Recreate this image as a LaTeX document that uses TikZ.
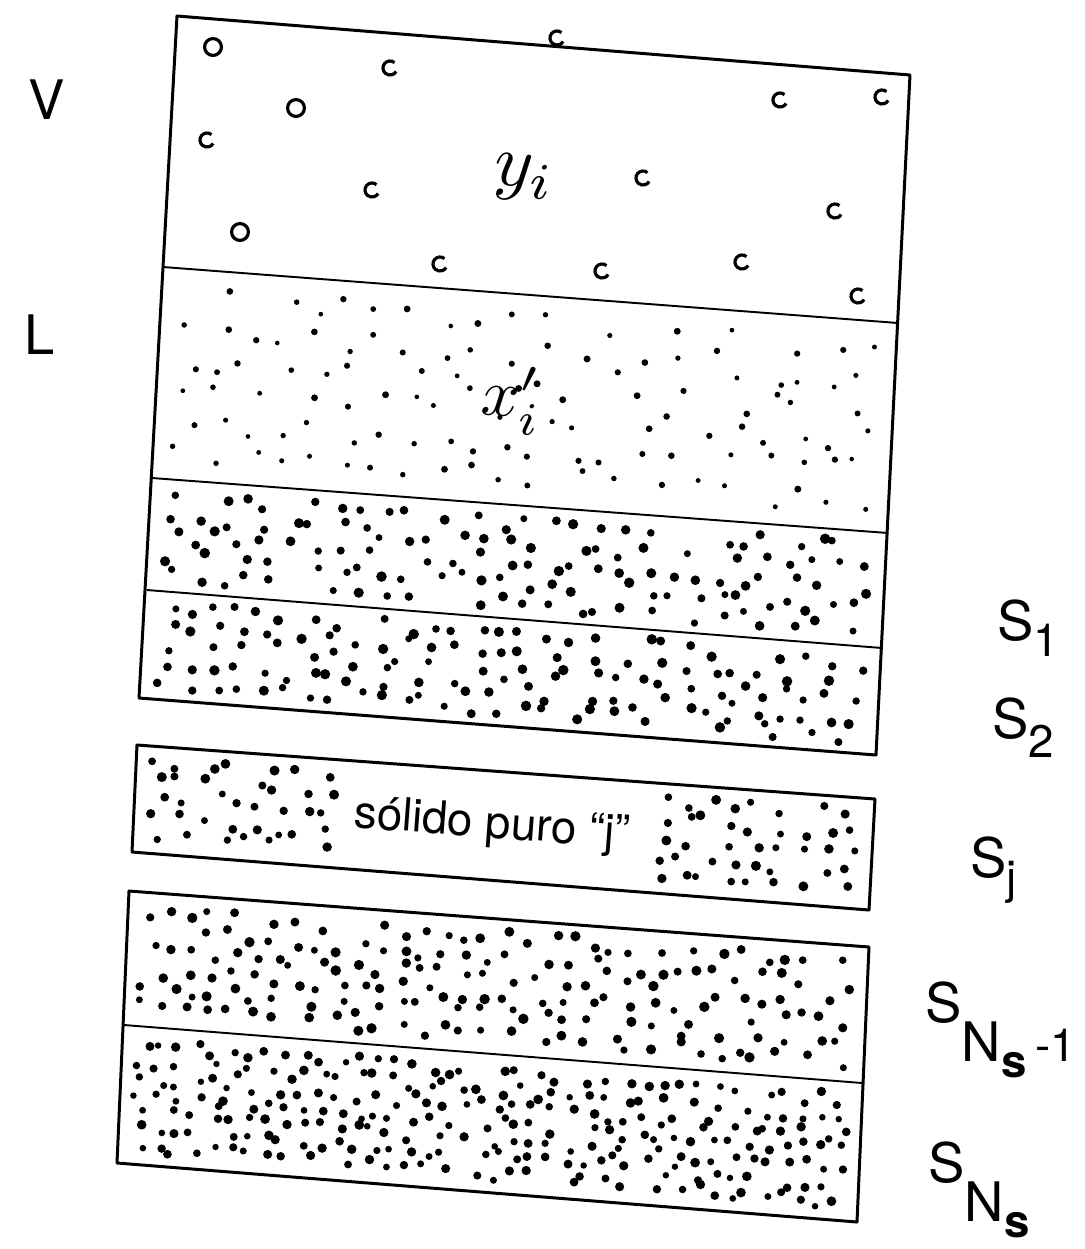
\documentclass[tikz,border=0pt]{standalone}
\usepackage{fontspec}
\usepackage{graphicx}
\setmainfont{TeX Gyre Heros}
\usetikzlibrary{calc}

% jittered stipple inside a four-corner layer:
% TL, TR, BR, BL, columns, rows, radius, gap from, gap to
\newcommand{\stipple}[9]{%
  \foreach \iu in {1,...,#5}{%
    \foreach \iv in {1,...,#6}{%
      \pgfmathsetmacro{\su}{0.015+0.97*(\iu-0.5+0.8*(rnd-0.5))/#5}%
      \pgfmathsetmacro{\sv}{0.07+0.86*(\iv-0.5+0.8*(rnd-0.5))/#6}%
      \pgfmathsetmacro{\sr}{(0.65+0.35*rnd)*#7}%
      \pgfmathtruncatemacro{\keep}{((\su<#8) || (\su>#9)) && (rnd<0.88)}%
      \ifnum\keep=1
        \path ($(#1)!\su!(#2)$) coordinate (p1) ($(#4)!\su!(#3)$) coordinate (p2);
        \fill ($(p1)!\sv!(p2)$) circle[radius=\sr pt];
      \fi
    }}}
\newcommand{\lblsub}[1]{{\fontsize{26}{30}\selectfont #1}}

\begin{document}
\begin{tikzpicture}[
  x=0.02cm, y=-0.02cm,
  frame/.style={line width=1.7pt, line join=round},
  sep/.style={line width=1.1pt},
  bubble/.style={line width=1.8pt},
  lbl/.style={font=\fontsize{31}{36}\selectfont, inner sep=0pt},
  phase/.style={inner sep=0pt}
]
\useasboundingbox (0,0) rectangle (1085,1249);
\pgfmathsetseed{4217}

% --- corners of the upper column (V, L, S1, S2) ---
\coordinate (vTL) at (177,16);   \coordinate (vTR) at (910,75);
\coordinate (lTL) at (163,267);  \coordinate (lTR) at (898,323);
\coordinate (aL)  at (152,478);  \coordinate (aR)  at (888,533);
\coordinate (bL)  at (147,590);  \coordinate (bR)  at (882,648);
\coordinate (cL)  at (139,698);  \coordinate (cR)  at (876,755);

% --- pure solid j ---
\coordinate (jTL) at (137,745);  \coordinate (jTR) at (875,799);
\coordinate (jBR) at (869,910);  \coordinate (jBL) at (132,852);

% --- last two solids ---
\coordinate (nTL) at (129,891);  \coordinate (nTR) at (869,947);
\coordinate (nML) at (124,1025); \coordinate (nMR) at (862,1083);
\coordinate (nBL) at (117,1163); \coordinate (nBR) at (857,1222);

% Frames
\draw[frame] (vTL) -- (vTR) -- (cR) -- (cL) -- cycle;
\draw[sep] (lTL) -- (lTR);
\draw[sep] (aL) -- (aR);
\draw[sep] (bL) -- (bR);
\draw[frame] (jTL) -- (jTR) -- (jBR) -- (jBL) -- cycle;
\draw[frame] (nTL) -- (nTR) -- (nBR) -- (nBL) -- cycle;
\draw[sep] (nML) -- (nMR);

% Vapour bubbles
\foreach \bx/\by in {213/47, 296/108, 240/232}
  \draw[bubble] (\bx,\by) circle[radius=4.8pt];
\foreach \bx/\by in {390/68, 557/38, 207/140, 780/100, 882/97, 372/190,
                     643/178, 835/211, 440/264, 602/271, 742/262, 858/296}
  \draw[bubble] (\bx,\by) ++(50:4pt) arc[start angle=50, end angle=330, radius=4pt];

% Stippled phases
\stipple{lTL}{lTR}{aR}{aL}{22}{6}{2.0}{2}{2}
\stipple{aL}{aR}{bR}{bL}{30}{5}{3.0}{2}{2}
\stipple{bL}{bR}{cR}{cL}{30}{5}{3.0}{2}{2}
\stipple{jTL}{jTR}{jBR}{jBL}{30}{5}{2.9}{0.27}{0.69}
\stipple{nTL}{nTR}{nMR}{nML}{34}{6}{3.0}{2}{2}
\stipple{nML}{nMR}{nBR}{nBL}{40}{7}{2.8}{2}{2}

% Phase texts
\node[phase, rotate=-4] (yi) at (524,178) {\scalebox{4.2}{$y_i$}};
\node[phase, rotate=-4] (xi) at (512,400) {\scalebox{3.8}{$x'_{i}$}};
\node[fill=white, inner sep=3pt, font=\fontsize{26}{30}\selectfont, rotate=-4.3]
  (solido) at (492,826) {sólido puro “j”};

% Layer labels
\node[lbl] (V) at (47,100) {V};
\node[lbl] (L) at (40,335) {L};
\node[lbl, anchor=west] (S1) at (997,628) {S\raisebox{-0.3em}{\lblsub{1}}};
\node[lbl, anchor=west] (S2) at (992,728) {S\raisebox{-0.35em}{\lblsub{2}}};
\node[lbl, anchor=west] (Sj) at (970,870) {S\raisebox{-0.3em}{\lblsub{j}}};
\node[lbl, anchor=west] (Sn1) at (925,1030)
  {S\raisebox{-0.7em}{N\raisebox{-0.3em}{\lblsub{\textbf{s}}}\,\lblsub{-1}}};
\node[lbl, anchor=west] (Sn) at (928,1190)
  {S\raisebox{-0.7em}{N\raisebox{-0.3em}{\lblsub{\textbf{s}}}}};

\end{tikzpicture}
\end{document}
